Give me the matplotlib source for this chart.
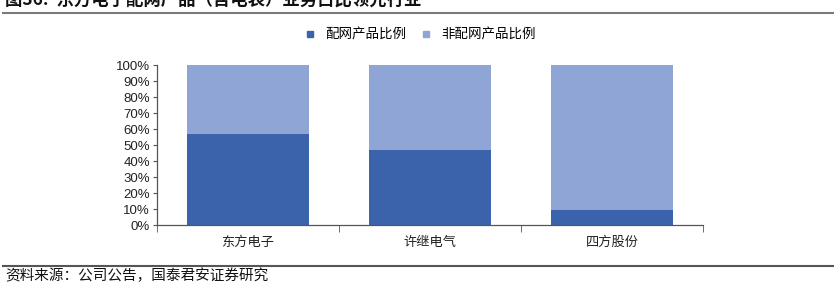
import numpy as np
import matplotlib.pyplot as plt
from matplotlib.lines import Line2D

plt.rcParams['font.family'] = ['Liberation Sans', 'Noto Sans CJK SC', 'DejaVu Sans']

companies = ['东方电子', '许继电气', '四方股份']
grid_share = [57, 47, 9.5]
other_share = [100 - v for v in grid_share]
series_names = ['配网产品比例', '非配网产品比例']
colors = ['#3B63AC', '#8FA5D5']
yticks = np.arange(0, 101, 10)

fig = plt.figure(figsize=(8.38, 2.86), dpi=100)
W, H = 838, 286
ax = fig.add_axes([157 / W, 1 - 225 / H, (703 - 157) / W, (225 - 65) / H])

x = np.arange(len(companies))
ax.bar(x, grid_share, width=0.67, color=colors[0], label=series_names[0])
ax.bar(x, other_share, bottom=grid_share, width=0.67, color=colors[1], label=series_names[1])

ax.set_xlim(-0.5, len(companies) - 0.5)
ax.set_ylim(0, 100)
ax.set_yticks(yticks)
ax.set_yticklabels([f'{v}%' for v in yticks], fontsize=9.5, color='#222222')
ax.set_xticks(x)
ax.set_xticklabels(companies, fontsize=9.5, color='#222222', family=['Noto Sans CJK SC'])
ax.set_xticks(np.arange(-0.5, len(companies), 1), minor=True)
ax.tick_params(axis='x', which='major', length=0, pad=8)
ax.tick_params(axis='x', which='minor', length=5, color='#555555', direction='out')
ax.tick_params(axis='y', length=3, color='#555555', pad=2)
for s in ['top', 'right']:
    ax.spines[s].set_visible(False)
for s in ['left', 'bottom']:
    ax.spines[s].set_color('#555555')
    ax.spines[s].set_linewidth(0.9)

handles = [Line2D([], [], marker='s', linestyle='', markersize=5, color=c) for c in colors]
fig.legend(handles, series_names, loc='center', bbox_to_anchor=(416 / W, 1 - 35 / H),
           ncol=2, frameon=False, handletextpad=0.1, columnspacing=0.5,
           prop={'family': 'Noto Sans CJK SC', 'size': 9.7})

# title, rules and source note
fig.text(5 / W, 1 - 9 / H, '图36:  东方电子配网产品（含电表）业务占比领先行业', fontsize=12.5,
         fontweight='bold', family=['Noto Sans CJK SC'], va='bottom', ha='left', color='#111111')
fig.add_artist(Line2D([3 / W, 833 / W], [1 - 13 / H, 1 - 13 / H], color='#7a7a7a', lw=1.5))
fig.add_artist(Line2D([3 / W, 833 / W], [1 - 266 / H, 1 - 266 / H], color='#555555', lw=1.5))
fig.text(5 / W, 1 - 276 / H, '资料来源：公司公告，国泰君安证券研究', fontsize=10.5,
         family=['Noto Sans CJK SC'], va='center', ha='left', color='#111111')

fig.savefig('out.png', dpi=100)
